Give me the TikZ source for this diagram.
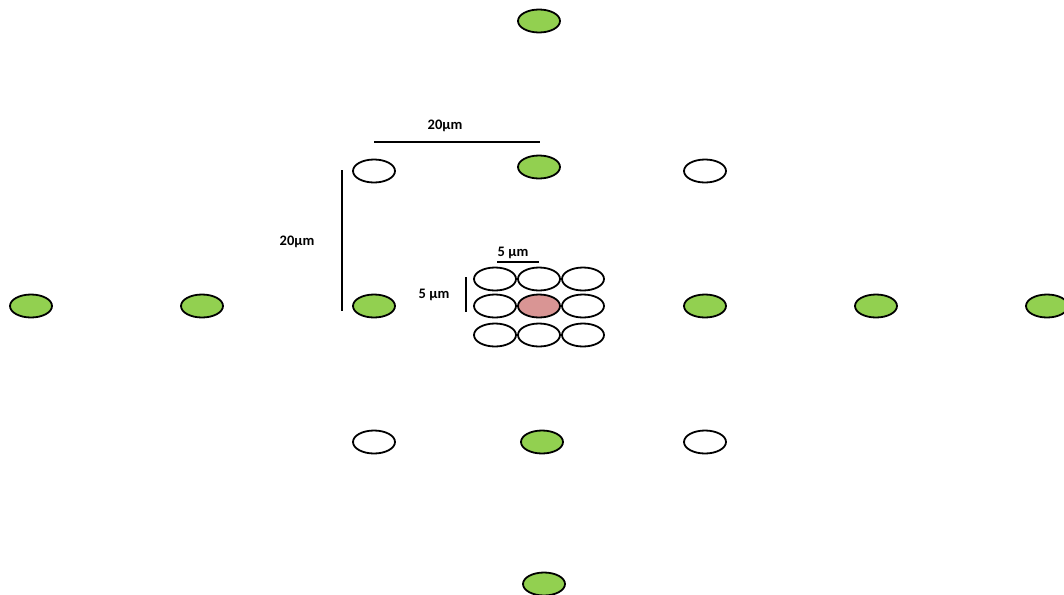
\documentclass[tikz,border=0pt]{standalone}
\usepackage{fontspec}
\setmainfont{Carlito}
\usetikzlibrary{shapes.geometric}
\definecolor{cellgreen}{HTML}{92D050}
\definecolor{cellpink}{HTML}{D99594}
\tikzset{
  cell/.style={ellipse, draw=black, line width=1.8pt, minimum width=42pt, minimum height=23pt, inner sep=0pt},
  gcell/.style={cell, fill=cellgreen},
  wcell/.style={cell, fill=white},
  pcell/.style={cell, fill=cellpink},
  lab/.style={font=\bfseries\fontsize{14.5}{16}\selectfont, inner sep=0pt},
  bar/.style={line width=1.6pt}
}
\begin{document}
\begin{tikzpicture}[x=1pt,y=-1pt]
\useasboundingbox (0,0) rectangle (1064,594);
% outer cells
\node[gcell] (top) at (539,21) {};
\node[gcell] (t2) at (539,167) {};
\node[wcell] (tl) at (374,171) {};
\node[wcell] (tr) at (705,171) {};
\node[gcell] (l3) at (31,306) {};
\node[gcell] (l2) at (202,306) {};
\node[gcell] (l1) at (374,306) {};
\node[gcell] (r1) at (705,306) {};
\node[gcell] (r2) at (876,306) {};
\node[gcell] (r3) at (1047,306) {};
\node[wcell] (bl) at (374,442) {};
\node[gcell] (b2) at (542,442) {};
\node[wcell] (br) at (705,442) {};
\node[gcell] (bot) at (544,584) {};
% central grid
\node[wcell] (c11) at (495,279) {};
\node[wcell] (c12) at (539,279) {};
\node[wcell] (c13) at (583,279) {};
\node[wcell] (c21) at (495,306) {};
\node[wcell] (c23) at (583,306) {};
\node[pcell] (c22) at (539,306) {};
\node[wcell] (c31) at (495,335) {};
\node[wcell] (c32) at (539,335) {};
\node[wcell] (c33) at (583,335) {};
% scale bars
\coordinate (h1a) at (374,142);
\coordinate (h1b) at (540,142);
\draw[bar] (h1a) -- (h1b);
\node[lab] (lh1) at (445,126) {20µm};
\coordinate (v1a) at (342,170);
\coordinate (v1b) at (342,311);
\draw[bar] (v1a) -- (v1b);
\node[lab] (lv1) at (297,242) {20µm};
\coordinate (h2a) at (497,262);
\coordinate (h2b) at (539,262);
\draw[bar] (h2a) -- (h2b);
\node[lab] (lh2) at (513,253) {5 µm};
\coordinate (v2a) at (466,277);
\coordinate (v2b) at (466,312);
\draw[bar] (v2a) -- (v2b);
\node[lab] (lv2) at (434,295) {5 µm};
\end{tikzpicture}
\end{document}
